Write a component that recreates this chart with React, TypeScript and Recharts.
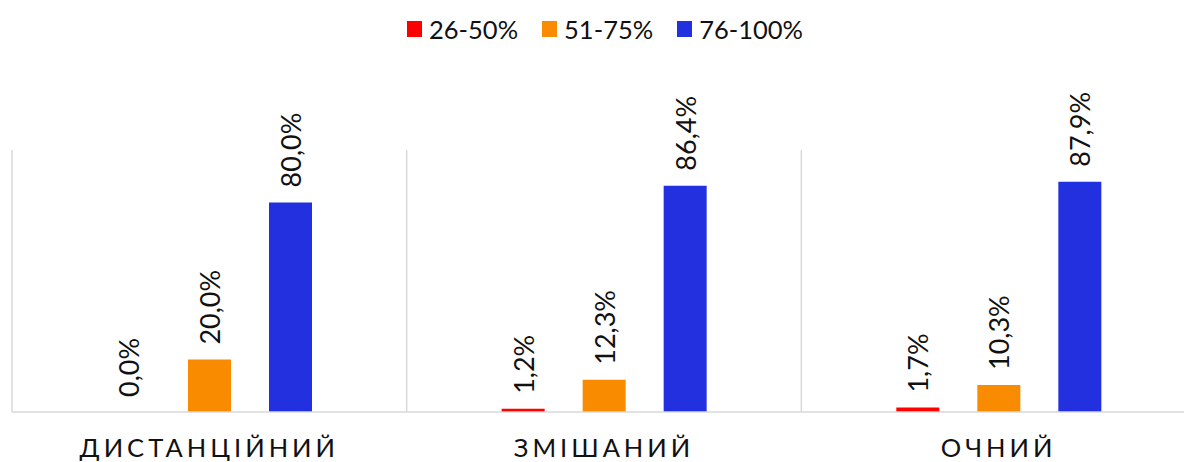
import { Bar, BarChart, CartesianGrid, LabelList, XAxis, YAxis } from "recharts";

const categories = ["ДИСТАНЦІЙНИЙ", "ЗМІШАНИЙ", "ОЧНИЙ"];
const seriesNames = ["26-50%", "51-75%", "76-100%"];
const seriesColors = ["#ff0000", "#f98b00", "#2230e0"];
const low = [0.0, 1.2, 1.7];
const mid = [20.0, 12.3, 10.3];
const high = [80.0, 86.4, 87.9];

const data = categories.map((name, i) => ({
  name,
  low: low[i],
  mid: mid[i],
  high: high[i],
}));
const keys = ["low", "mid", "high"];

const FONT = "Lato, 'Noto Sans', sans-serif";

const fmt = (v: number) => `${v.toFixed(1).replace(".", ",")}%`;

function RotatedLabel(props: any) {
  const { x, y, width, value } = props;
  const cx = Number(x) + Number(width) / 2;
  const ty = Number(y) - 15;
  return (
    <text
      x={cx}
      y={ty}
      transform={`rotate(-90 ${cx} ${ty})`}
      textAnchor="start"
      dominantBaseline="central"
      fontFamily={FONT}
      fontSize={27}
      fill="#111"
    >
      {fmt(Number(value))}
    </text>
  );
}

function CategoryTick(props: any) {
  const { x, y, payload } = props;
  return (
    <text
      x={x}
      y={y + 37}
      textAnchor="middle"
      fontFamily={FONT}
      fontSize={25.5}
      letterSpacing={4}
      fill="#111"
    >
      {payload.value}
    </text>
  );
}

function TopLegend() {
  return (
    <div
      style={{
        position: "absolute",
        left: 407,
        top: 14,
        display: "flex",
        alignItems: "center",
        fontFamily: FONT,
        fontSize: 25.5,
        color: "#111",
      }}
    >
      {seriesNames.map((n, i) => (
        <div key={n} style={{ display: "flex", alignItems: "center", marginRight: 24 }}>
          <span
            style={{
              display: "inline-block",
              width: 15,
              height: 16,
              background: seriesColors[i],
              marginRight: 7,
            }}
          />
          <span>{n}</span>
        </div>
      ))}
    </div>
  );
}

export default function App() {
  return (
    <div
      style={{
        position: "fixed",
        left: 0,
        top: 0,
        width: 1184,
        height: 462,
        overflow: "hidden",
        background: "#fff",
      }}
    >
      <TopLegend />
      <BarChart
        width={1200}
        height={462}
        data={data}
        margin={{ top: 150, right: 4, left: 12, bottom: 0 }}
        barSize={43}
        barGap={38}
      >
        <CartesianGrid
          horizontal={false}
          stroke="#d9d9d9"
          strokeWidth={1.5}
          verticalCoordinatesGenerator={({ offset }: any) =>
            categories
              .map((_, i) => offset.left + (i * offset.width) / categories.length)
              .concat(offset.left + offset.width)
          }
        />
        <XAxis
          dataKey="name"
          height={50}
          axisLine={{ stroke: "#d9d9d9", strokeWidth: 1.5 }}
          tickLine={false}
          tick={<CategoryTick />}
          interval={0}
        />
        <YAxis hide domain={[0, 100]} />
        {keys.map((k, i) => (
          <Bar
            key={k}
            dataKey={k}
            name={seriesNames[i]}
            fill={seriesColors[i]}
            minPointSize={0.01}
            isAnimationActive={false}
          >
            <LabelList dataKey={k} content={<RotatedLabel />} />
          </Bar>
        ))}
      </BarChart>
    </div>
  );
}
